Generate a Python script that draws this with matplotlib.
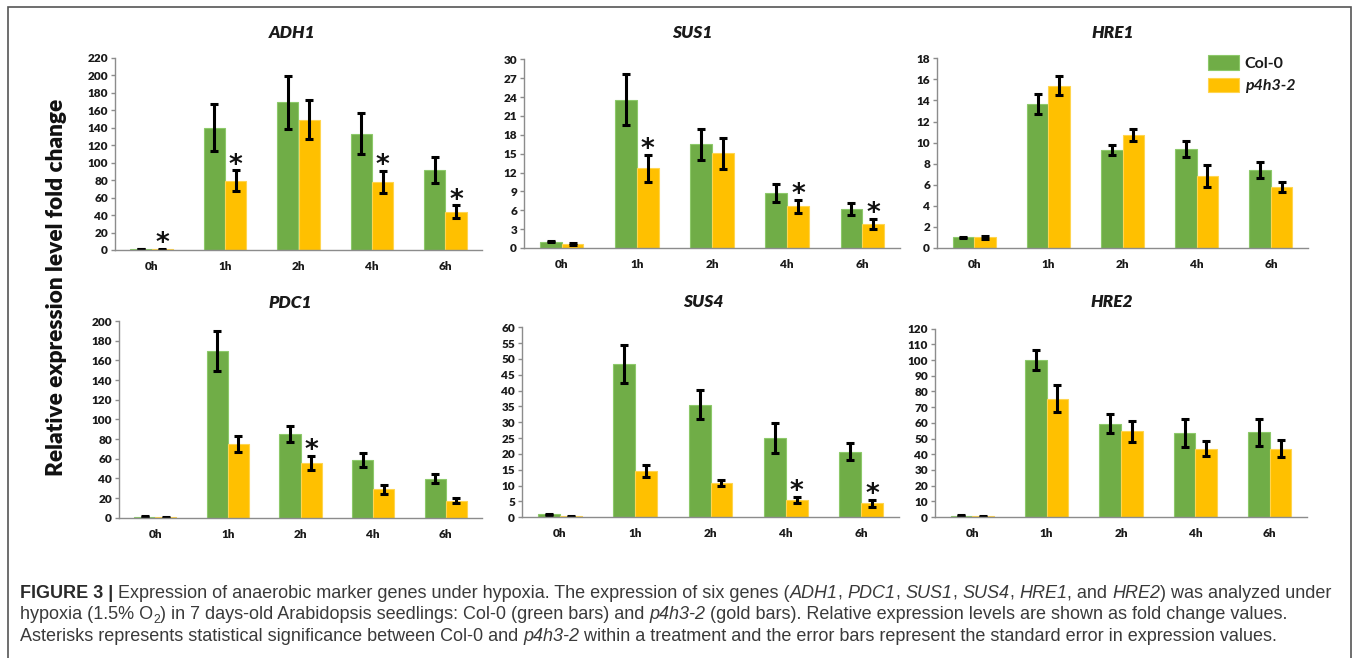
import numpy as np
import matplotlib
matplotlib.use("Agg")
import matplotlib.pyplot as plt
from matplotlib.patches import Rectangle

# === Datos ===
times = ["0h", "1h", "2h", "4h", "6h"]
genes = ["ADH1", "SUS1", "HRE1", "PDC1", "SUS4", "HRE2"]

adh1_col = [1.0, 140, 169, 133, 91.5]
adh1_col_err = [0.4, 27, 30.5, 23.5, 15]
adh1_p4h = [0.8, 79, 149, 78, 44]
adh1_p4h_err = [0.4, 12, 22.5, 12.4, 7]
adh1_sig = [0, 1, 3, 4]

sus1_col = [1.0, 23.6, 16.5, 8.7, 6.2]
sus1_col_err = [0.12, 4.0, 2.45, 1.45, 1.0]
sus1_p4h = [0.64, 12.7, 15.05, 6.6, 3.8]
sus1_p4h_err = [0.15, 2.15, 2.45, 1.05, 0.75]
sus1_sig = [1, 3, 4]

hre1_col = [1.0, 13.7, 9.3, 9.4, 7.4]
hre1_col_err = [0.05, 0.95, 0.52, 0.78, 0.8]
hre1_p4h = [1.0, 15.4, 10.7, 6.85, 5.8]
hre1_p4h_err = [0.12, 0.9, 0.57, 1.07, 0.44]
hre1_sig = []

pdc1_col = [0.8, 169.5, 85, 58.6, 39.7]
pdc1_col_err = [0.5, 20, 8.5, 7.3, 4.7]
pdc1_p4h = [0.6, 75, 55.6, 28.8, 17.3]
pdc1_p4h_err = [0.4, 7.8, 7.3, 4.4, 2.7]
pdc1_sig = [2]

sus4_col = [0.95, 48.4, 35.5, 25.0, 20.7]
sus4_col_err = [0.2, 6.05, 4.55, 4.85, 2.65]
sus4_p4h = [0.32, 14.5, 10.7, 5.5, 4.4]
sus4_p4h_err = [0.1, 1.9, 0.95, 0.95, 1.05]
sus4_sig = [3, 4]

hre2_col = [0.85, 100, 59.3, 53.5, 54]
hre2_col_err = [0.4, 6.15, 6.05, 8.7, 8.7]
hre2_p4h = [0.4, 75.4, 54.6, 43.5, 43.5]
hre2_p4h_err = [0.3, 8.7, 6.6, 4.75, 5.3]
hre2_sig = []

yticks = {
    "ADH1": np.arange(0, 221, 20),
    "SUS1": np.arange(0, 31, 3),
    "HRE1": np.arange(0, 19, 2),
    "PDC1": np.arange(0, 201, 20),
    "SUS4": np.arange(0, 61, 5),
    "HRE2": np.arange(0, 121, 10),
}

series = {
    "ADH1": (adh1_col, adh1_col_err, adh1_p4h, adh1_p4h_err, adh1_sig),
    "SUS1": (sus1_col, sus1_col_err, sus1_p4h, sus1_p4h_err, sus1_sig),
    "HRE1": (hre1_col, hre1_col_err, hre1_p4h, hre1_p4h_err, hre1_sig),
    "PDC1": (pdc1_col, pdc1_col_err, pdc1_p4h, pdc1_p4h_err, pdc1_sig),
    "SUS4": (sus4_col, sus4_col_err, sus4_p4h, sus4_p4h_err, sus4_sig),
    "HRE2": (hre2_col, hre2_col_err, hre2_p4h, hre2_p4h_err, hre2_sig),
}

# texto del pie: (texto, estilo) -- n normal, b negrita, i cursiva, s subíndice
caption = [
    [("FIGURE 3 | ", "b"),
     ("Expression of anaerobic marker genes under hypoxia. The expression of six genes (", "n"),
     ("ADH1", "i"), (", ", "n"), ("PDC1", "i"), (", ", "n"), ("SUS1", "i"), (", ", "n"),
     ("SUS4", "i"), (", ", "n"), ("HRE1", "i"), (", and ", "n"), ("HRE2", "i"),
     (") was analyzed under", "n")],
    [("hypoxia (1.5% O", "n"), ("2", "s"),
     (") in 7 days-old Arabidopsis seedlings: Col-0 (green bars) and ", "n"),
     ("p4h3-2", "i"),
     (" (gold bars). Relative expression levels are shown as fold change values.", "n")],
    [("Asterisks represents statistical significance between Col-0 and ", "n"),
     ("p4h3-2", "i"),
     (" within a treatment and the error bars represent the standard error in expression values.", "n")],
]

# === Maquetación (pixeles) ===
W, H = 1360, 658
# left, right, bottom, top del área de trazado; posición del título
layout = {
    "ADH1": (115, 482, 250, 57.7, 292, 33),
    "SUS1": (524, 900, 248, 59.3, 692, 33),
    "HRE1": (937, 1308, 248, 58.3, 1113, 33),
    "PDC1": (119, 482, 517.7, 321, 290, 303),
    "SUS4": (522, 899, 517.3, 327.3, 703, 302),
    "HRE2": (935, 1307, 517, 328.7, 1112, 302),
}

GREEN = "#70AD47"
GOLD = "#FFC000"
AXC = "#8C8C8C"
FONT = "Lato"
CAP_FONT = "Liberation Sans"

plt.rcParams["font.family"] = [FONT, "DejaVu Sans"]


def fx(x):
    return x / W


def fy(y):
    return 1 - y / H


fig = plt.figure(figsize=(W / 100, H / 100), dpi=100)

x = np.arange(len(times))
bw = 0.29

for g in genes:
    l, r, b, t, tx, ty = layout[g]
    ax = fig.add_axes([fx(l), fy(b), (r - l) / W, (b - t) / H])
    col, col_e, p4h, p4h_e, sig = series[g]
    ekw = dict(ecolor="black", elinewidth=2.2, capsize=3.2, capthick=2.2)
    ax.bar(x - bw / 2, col, bw, color=GREEN, edgecolor="#8DC96A", linewidth=0.8,
           yerr=col_e, error_kw=ekw, label="Col-0", zorder=2)
    ax.bar(x + bw / 2, p4h, bw, color=GOLD, edgecolor="#FFD54F", linewidth=0.8,
           yerr=p4h_e, error_kw=ekw, label="p4h3-2", zorder=2)
    for i in sig:
        ax.annotate("*", (x[i] + bw / 2, p4h[i] + p4h_e[i]), xytext=(0, -1.5),
                    textcoords="offset points", ha="center", va="baseline",
                    fontsize=19, fontweight="bold", family="DejaVu Sans",
                    color="#111111")
    yt = yticks[g]
    ax.set_ylim(0, yt[-1])
    ax.set_yticks(yt)
    ax.set_xlim(-0.5, len(times) - 0.5)
    ax.set_xticks(x)
    ax.set_xticklabels(times)
    for s in ("top", "right"):
        ax.spines[s].set_visible(False)
    for s in ("left", "bottom"):
        ax.spines[s].set_color(AXC)
        ax.spines[s].set_linewidth(1)
    ax.tick_params(axis="y", length=3, width=1, color=AXC, pad=2, labelsize=8.5)
    ax.tick_params(axis="x", length=0, pad=8, labelsize=8.5)
    for lab in ax.get_xticklabels() + ax.get_yticklabels():
        lab.set_fontweight("heavy")
        lab.set_color("#1a1a1a")
    fig.text(fx(tx), fy(ty), g, ha="center", va="center", fontsize=12.5,
             fontweight="heavy", fontstyle="italic", color="#1a1a1a")
    if g == "HRE1":
        leg = ax.legend(loc="upper left", bbox_to_anchor=(fx(1208), fy(55)),
                        bbox_transform=fig.transFigure, frameon=False,
                        fontsize=11.5, handlelength=1.95, handleheight=1.05,
                        handletextpad=0.35, labelspacing=0.42, borderpad=0,
                        borderaxespad=0)
        for txt in leg.get_texts():
            txt.set_fontweight("bold")
            txt.set_color("#1a1a1a")
        leg.get_texts()[1].set_fontstyle("italic")

fig.text(fx(57), fy(287), "Relative expression level fold change", rotation=90,
         ha="center", va="center", fontsize=16.3, fontweight="heavy", color="#111111")

# === Pie de figura, por segmentos ===
renderer = fig.canvas.get_renderer()


def seg_kw(style, fs):
    kw = dict(family=CAP_FONT, fontsize=fs, color="#3a3a3a")
    if style == "b":
        kw.update(fontweight="bold", color="#2a2a2a")
    elif style == "i":
        kw.update(fontstyle="italic")
    elif style == "s":
        kw.update(fontsize=fs * 0.68)
    return kw


def draw_line(segs, x0, yb, fs, draw=True):
    xp = x0
    for txt, style in segs:
        dy = -3.5 if style == "s" else 0
        t = fig.text(fx(xp), fy(yb - dy), txt, ha="left", va="baseline",
                     **seg_kw(style, fs))
        xp += t.get_window_extent(renderer=renderer).width
        if not draw:
            t.remove()
    return xp - x0


# ajusta el tamaño para que la primera línea ocupe el ancho del original
fs_cap = 12.5
w1 = draw_line(caption[0], 20, 598, fs_cap, draw=False)
fs_cap = fs_cap * 1320 / w1
for k, segs in enumerate(caption):
    draw_line(segs, 20, 598 + 21.3 * k, fs_cap)

fig.patches.append(Rectangle((fx(7.5), -0.02), (1351 - 7.5) / W, fy(6.5) + 0.02,
                             transform=fig.transFigure, fill=False,
                             edgecolor="#555555", linewidth=1.2))

fig.savefig("out.png", dpi=100)
